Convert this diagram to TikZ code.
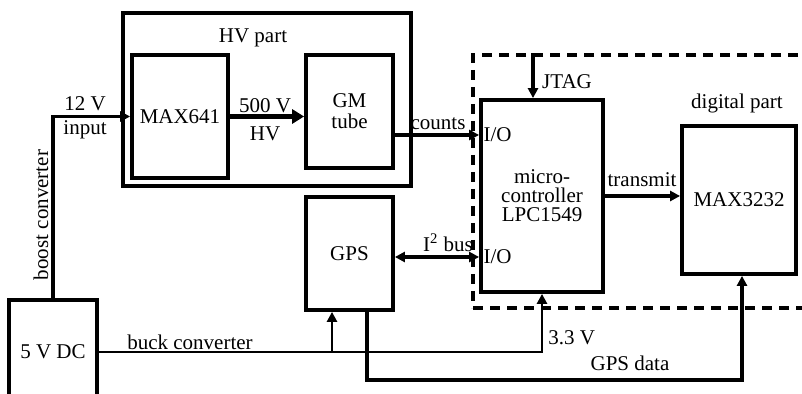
\documentclass[tikz,border=0pt]{standalone}
\usepackage{fontspec}
\setmainfont{Liberation Serif}
\usepackage{tikz}
\usetikzlibrary{arrows.meta,calc}

\begin{document}
\begin{tikzpicture}[x=0.5pt,y=-0.5pt,
  blk/.style={rectangle,draw,line width=1.9pt,align=center,inner sep=0pt,
              font=\fontsize{10.5}{12.5}\selectfont},
  lbl/.style={font=\fontsize{10.5}{12.5}\selectfont,inner sep=1pt},
  arr/.style={line width=1.9pt,-{Triangle[length=5pt,width=5pt]}},
  dblarr/.style={line width=1.9pt,{Triangle[length=5pt,width=5pt]}-{Triangle[length=5pt,width=5pt]}},
  bigarr/.style={line width=2.6pt,-{Triangle[length=6pt,width=7pt]}}
]
\useasboundingbox (0,0) rectangle (802,394);

\node[blk,line width=1.6pt,minimum width=144pt,minimum height=86.5pt] (hv) at (267,99.5) {};
\node[rectangle,draw,line width=1.8pt,dash pattern=on 5pt off 3.5pt,minimum width=171pt,minimum height=126.5pt] (dig) at (644,181.5) {};

\node[blk,minimum width=48pt,minimum height=61.5pt] (max641) at (180,116.5) {MAX641};
\node[blk,minimum width=43.5pt,minimum height=56.5pt] (gm) at (349.5,111.5) {GM\\[-2pt]tube};
\node[blk,minimum width=43.5pt,minimum height=56.5pt] (gps) at (349.5,253.5) {GPS};
\node[blk,minimum width=61pt,minimum height=96pt] (mcu) at (542,196) {micro-\\[-3pt]controller\\[-3pt]LPC1549};
\node[blk,minimum width=57pt,minimum height=74pt] (max3232) at (739,200) {MAX3232};
\node[blk,minimum width=44pt,minimum height=52pt] (dc) at (53,352) {5 V DC};

\coordinate (cnt0) at ($(gm.east)+(0,23.5)$);
\coordinate (i2c0) at ($(gps.east)+(0,3.5)$);
\coordinate (jt) at ($(mcu.north)+(-9,0)$);
\coordinate (bk) at ($(gps.south)+(-17.5,0)$);
\coordinate (gd) at ($(gps.south)+(17.5,0)$);
\coordinate (rx) at ($(max3232.south)+(3,0)$);

\draw[arr] (dc.north) |- (max641.west);
\draw[bigarr] (max641.east) -- (max641.east -| gm.west);
\draw[arr] (cnt0) -- (cnt0 -| mcu.west);
\draw[dblarr] (i2c0) -- (i2c0 -| mcu.west);
\draw[arr] (mcu.east) -- (mcu.east -| max3232.west);
\draw[arr] (jt |- dig.north) -- (jt);
\draw[arr,line width=1.4pt] (dc.east) -| (mcu.south);
\draw[arr,line width=1.4pt] (bk |- dc.east) -- (bk);
\draw[arr] (gd) -- ++(0,68) -| (rx);

\node[lbl] (hvlbl) at (253,38) {HV part};
\node[lbl] (inlbl) at (85,104) {12 V};
\node[lbl] (inlbl2) at (85,130) {input};
\node[lbl,rotate=90] (boost) at (41,215) {boost converter};
\node[lbl] (hvlbl1) at (265,106) {500 V};
\node[lbl] (hvlbl2) at (265,134) {HV};
\node[lbl] (cnt) at (438,124) {counts};
\node[lbl,anchor=west] (io1) at ($(mcu.west)+(2,-61)$) {I/O};
\node[lbl,anchor=west] (io2) at ($(mcu.west)+(2,61)$) {I/O};
\node[lbl] (i2c) at (448,243) {I\textsuperscript{2} bus};
\node[lbl] (tx) at (642,180) {transmit};
\node[lbl] (jtag) at (567,82) {JTAG};
\node[lbl] (diglbl) at (737,103) {digital part};
\node[lbl,anchor=west] (v33) at (546,338) {3.3 V};
\node[lbl] (gpsd) at (630,363) {GPS data};
\node[lbl] (buck) at (190,342) {buck converter};
\end{tikzpicture}
\end{document}
